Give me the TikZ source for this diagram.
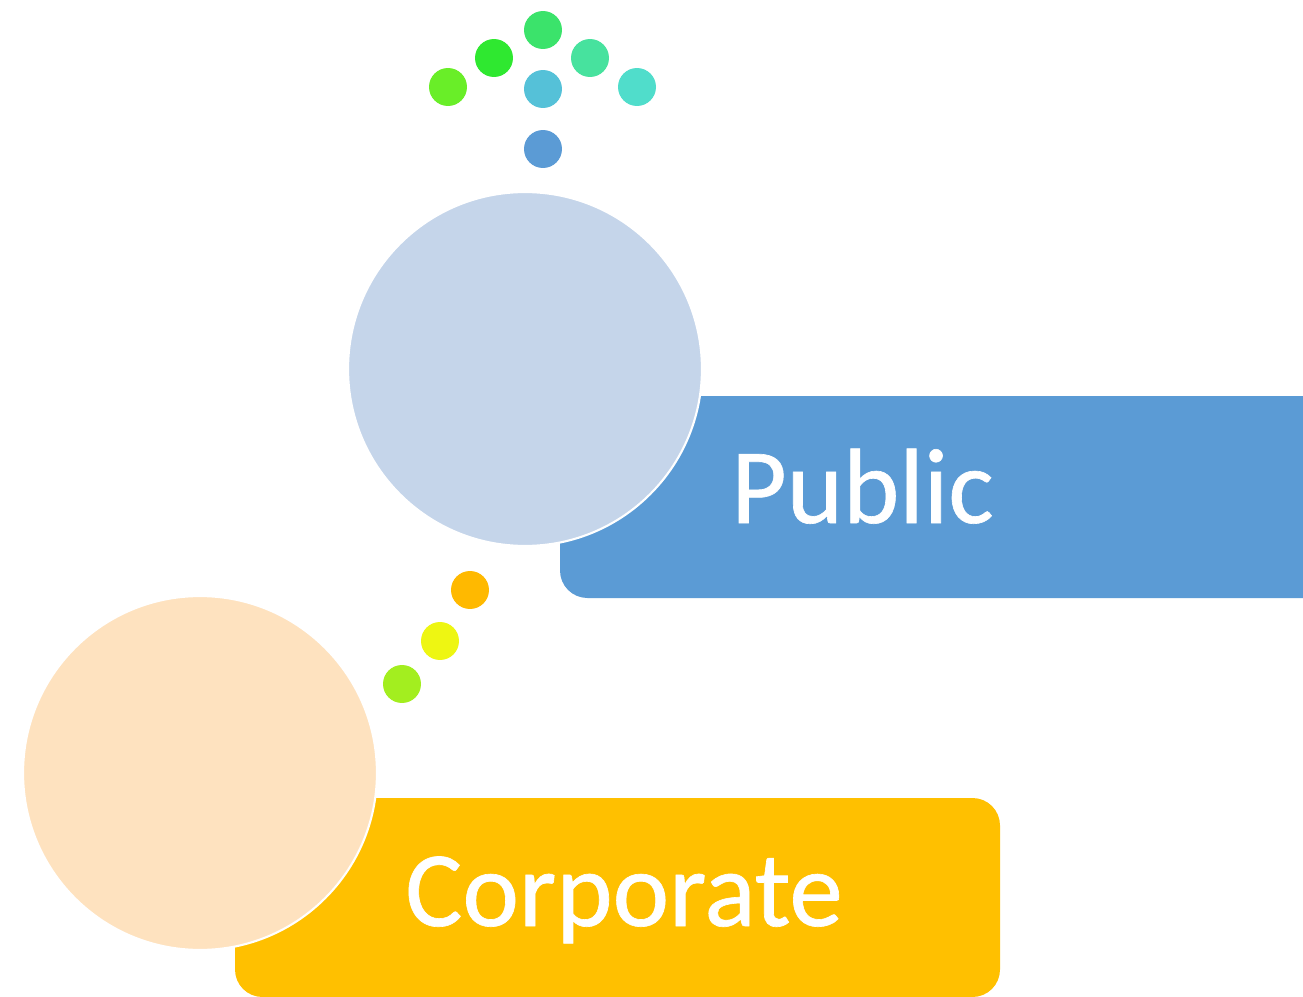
\documentclass[tikz,border=0pt]{standalone}
\usepackage{fontspec}
\setmainfont{Carlito}
\newfontfamily\lblfont[FakeBold=0.6]{Carlito}
\definecolor{pubbox}{HTML}{5B9BD5}
\definecolor{pubcirc}{HTML}{C5D5EA}
\definecolor{corpbox}{HTML}{FFC000}
\definecolor{corpcirc}{HTML}{FEE2BF}
\definecolor{d1}{HTML}{3BE36B}
\definecolor{d2}{HTML}{2FE830}
\definecolor{d3}{HTML}{47E29E}
\definecolor{d4}{HTML}{69EE28}
\definecolor{d5}{HTML}{55C1D8}
\definecolor{d6}{HTML}{50DDCB}
\definecolor{d7}{HTML}{5B9BD5}
\definecolor{e1}{HTML}{FFB900}
\definecolor{e2}{HTML}{EEF612}
\definecolor{e3}{HTML}{A3EE1F}
\tikzset{
  bigcirc/.style={circle, draw=white, line width=1.2pt, minimum size=7.08cm, inner sep=0pt},
  dot/.style={circle, minimum size=0.76cm, inner sep=0pt},
  lbl/.style={text=white, font=\lblfont\fontsize{61}{63}\selectfont, inner sep=0pt, anchor=base west},
  boxshape/.style={rounded corners=0.55cm}
}
\begin{document}
\begin{tikzpicture}[x=0.02cm,y=-0.02cm]
\clip (0,0) rectangle (1303,997);
\fill[white] (0,0) rectangle (1303,997);
% Public
\fill[pubbox, boxshape] (560,396) rectangle (1360,598);
\node[bigcirc, fill=pubcirc] (pubc) at (525,369) {};
\node[lbl] (publbl) at (731,523) {Public};
% Corporate
\fill[corpbox, boxshape] (235,798) rectangle (1000,997);
\node[bigcirc, fill=corpcirc] (corpc) at (200,773) {};
\node[lbl] (corplbl) at (405,926) {Corporate};
% top dots
\node[dot, fill=d1] (t1) at (543,30) {};
\node[dot, fill=d2] (t2) at (494,58) {};
\node[dot, fill=d3] (t3) at (590,58) {};
\node[dot, fill=d4] (t4) at (448,87) {};
\node[dot, fill=d5] (t5) at (543,89) {};
\node[dot, fill=d6] (t6) at (637,87) {};
\node[dot, fill=d7] (t7) at (543,149) {};
% lower dots
\node[dot, fill=e1] (l1) at (470,590) {};
\node[dot, fill=e2] (l2) at (440,641) {};
\node[dot, fill=e3] (l3) at (402,684) {};
\end{tikzpicture}
\end{document}
